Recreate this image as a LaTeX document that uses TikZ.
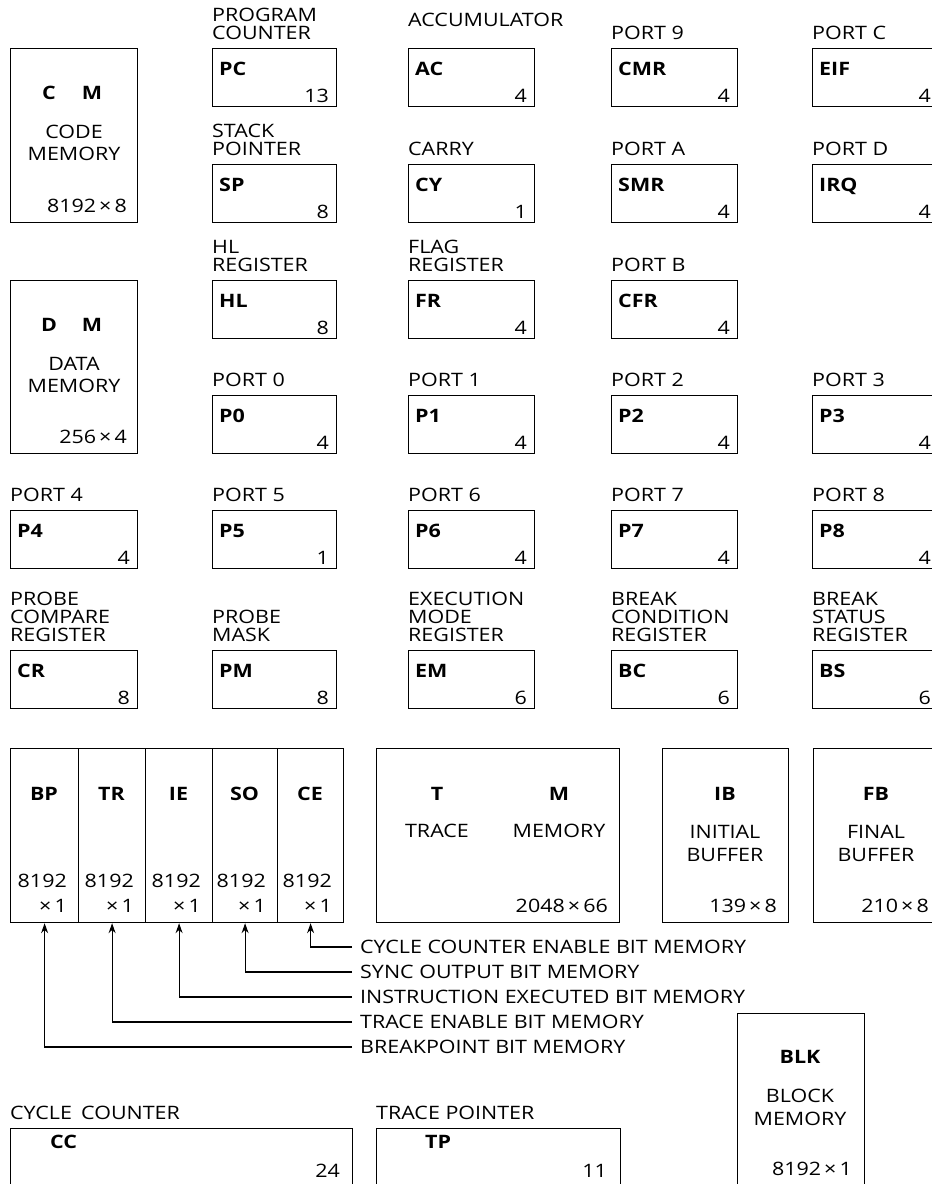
\documentclass[tikz,border=0pt]{standalone}
\usepackage{fontspec}
\setmainfont{Open Sans}[FakeStretch=1.16]
\usetikzlibrary{arrows.meta}
\newcommand\myfs{\fontsize{18.5pt}{22pt}\selectfont}
\newcommand\mylfs{\fontsize{18.5pt}{18pt}\selectfont}
\tikzset{
  box/.style={draw, line width=1.2pt, inner sep=0pt, anchor=north west},
  nm/.style={font=\myfs\bfseries, inner sep=0pt},
  txt/.style={font=\myfs, inner sep=0pt},
  lbl/.style={font=\mylfs, inner sep=0pt, align=left, anchor=south west},
  arr/.style={line width=1.1pt, -{Stealth[length=10pt,width=7pt]}},
}
% id, x, top, width, label, name, bits, label offset
\newcommand{\regb}[8]{%
  \node[box, minimum width=#4pt, minimum height=58pt] (#1) at (#2,#3) {};
  \node[nm, anchor=base west] (#1n) at ([shift={(7pt,-27pt)}]#1.north west) {#6};
  \node[txt, anchor=base east] (#1b) at ([shift={(-8pt,5pt)}]#1.south east) {#7};
  \node[lbl] (#1l) at ([shift={(0pt,#8pt)}]#1.north west) {#5};
}
\begin{document}
\begin{tikzpicture}[x=1pt,y=-1pt]
\useasboundingbox (0,0) rectangle (932,1184);
\clip (0,0) rectangle (932,1184);

% ---- code memory
\node[box, minimum width=127pt, minimum height=174pt] (cm) at (10,48) {};
\node[nm, anchor=base] (cmc) at (49,99) {C};
\node[nm, anchor=base] (cmm) at (92,99) {M};
\node[txt, anchor=base] (cm1) at (74,138) {CODE};
\node[txt, anchor=base] (cm2) at (74,160) {MEMORY};
\node[txt, anchor=base east] (cm3) at (127,212) {8192\,×\,8};
% ---- data memory
\node[box, minimum width=127pt, minimum height=173pt] (dm) at (10,280) {};
\node[nm, anchor=base] (dmd) at (49,331) {D};
\node[nm, anchor=base] (dmm) at (92,331) {M};
\node[txt, anchor=base] (dm1) at (74,370) {DATA};
\node[txt, anchor=base] (dm2) at (74,392) {MEMORY};
\node[txt, anchor=base east] (dm3) at (127,443) {256\,×\,4};

% ---- registers
\regb{pc}{212}{48}{124}{PROGRAM\\COUNTER}{PC}{13}{8}
\regb{ac}{408}{48}{126}{ACCUMULATOR}{AC}{4}{21}
\regb{cmr}{611}{48}{126}{PORT 9}{CMR}{4}{8}
\regb{eif}{812}{48}{126}{PORT C}{EIF}{4}{8}

\regb{sp}{212}{164}{124}{STACK\\POINTER}{SP}{8}{8}
\regb{cy}{408}{164}{126}{CARRY}{CY}{1}{8}
\regb{smr}{611}{164}{126}{PORT A}{SMR}{4}{8}
\regb{irq}{812}{164}{126}{PORT D}{IRQ}{4}{8}

\regb{hl}{212}{280}{124}{HL\\REGISTER}{HL}{8}{8}
\regb{fr}{408}{280}{126}{FLAG\\REGISTER}{FR}{4}{8}
\regb{cfr}{611}{280}{126}{PORT B}{CFR}{4}{8}

\regb{pz}{212}{395}{124}{PORT 0}{P0}{4}{8}
\regb{pa}{408}{395}{126}{PORT 1}{P1}{4}{8}
\regb{pb}{611}{395}{126}{PORT 2}{P2}{4}{8}
\regb{pc3}{812}{395}{126}{PORT 3}{P3}{4}{8}

\regb{pd}{10}{510}{127}{PORT 4}{P4}{4}{8}
\regb{pe}{212}{510}{124}{PORT 5}{P5}{1}{8}
\regb{pf}{408}{510}{126}{PORT 6}{P6}{4}{8}
\regb{pg}{611}{510}{126}{PORT 7}{P7}{4}{8}
\regb{ph}{812}{510}{126}{PORT 8}{P8}{4}{8}

\regb{cr}{10}{650}{127}{PROBE\\COMPARE\\REGISTER}{CR}{8}{8}
\regb{pm}{212}{650}{124}{PROBE\\MASK}{PM}{8}{8}
\regb{em}{408}{650}{126}{EXECUTION\\MODE\\REGISTER}{EM}{6}{8}
\regb{bc}{611}{650}{126}{BREAK\\CONDITION\\REGISTER}{BC}{6}{8}
\regb{bs}{812}{650}{126}{BREAK\\STATUS\\REGISTER}{BS}{6}{8}

% ---- bit memories
\foreach \id/\nam/\l/\r in {bp/BP/10/78, tr/TR/78/145, ie/IE/145/212, so/SO/212/277, ce/CE/277/343}{
  \pgfmathsetmacro{\w}{\r-\l}
  \pgfmathsetmacro{\c}{(\l+\r)/2}
  \pgfmathsetmacro{\rr}{\r-11}
  \node[box, minimum width=\w pt, minimum height=174pt] (\id) at (\l,748) {};
  \node[nm, anchor=base] (\id n) at (\c,800) {\nam};
  \node[txt, anchor=base east] (\id a) at (\rr,887) {8192};
  \node[txt, anchor=base east] (\id b) at (\rr,912) {×\,1};
}

% ---- trace memory
\node[box, minimum width=243pt, minimum height=174pt] (tm) at (376,748) {};
\node[nm, anchor=base] (tmt) at (437,800) {T};
\node[nm, anchor=base] (tmm) at (559,800) {M};
\node[txt, anchor=base] (tm1) at (437,837) {TRACE};
\node[txt, anchor=base] (tm2) at (559,837) {MEMORY};
\node[txt, anchor=base east] (tm3) at (608,912) {2048\,×\,66};
% ---- initial buffer
\node[box, minimum width=126pt, minimum height=174pt] (ib) at (662,748) {};
\node[nm, anchor=base] (ibn) at (725,800) {IB};
\node[txt, anchor=base] (ib1) at (725,838) {INITIAL};
\node[txt, anchor=base] (ib2) at (725,861) {BUFFER};
\node[txt, anchor=base east] (ib3) at (777,912) {139\,×\,8};
% ---- final buffer
\node[box, minimum width=127pt, minimum height=174pt] (fb) at (813,748) {};
\node[nm, anchor=base] (fbn) at (876,800) {FB};
\node[txt, anchor=base] (fb1) at (876,838) {FINAL};
\node[txt, anchor=base] (fb2) at (876,861) {BUFFER};
\node[txt, anchor=base east] (fb3) at (929,912) {210\,×\,8};

% ---- arrow labels
\node[txt, anchor=west] (lce) at (360,947) {CYCLE COUNTER ENABLE BIT MEMORY};
\node[txt, anchor=west] (lso) at (360,972) {SYNC OUTPUT BIT MEMORY};
\node[txt, anchor=west] (lie) at (360,997) {INSTRUCTION EXECUTED BIT MEMORY};
\node[txt, anchor=west] (ltr) at (360,1022) {TRACE ENABLE BIT MEMORY};
\node[txt, anchor=west] (lbp) at (360,1047) {BREAKPOINT BIT MEMORY};
\draw[arr] ([xshift=-8pt]lce.west) -| (ce.south);
\draw[arr] ([xshift=-8pt]lso.west) -| (so.south);
\draw[arr] ([xshift=-8pt]lie.west) -| (ie.south);
\draw[arr] ([xshift=-8pt]ltr.west) -| (tr.south);
\draw[arr] ([xshift=-8pt]lbp.west) -| (bp.south);

% ---- block memory
\node[box, minimum width=127pt, minimum height=174pt] (blk) at (737,1013) {};
\node[nm, anchor=base] (blkn) at (800,1063) {BLK};
\node[txt, anchor=base] (blk1) at (800,1102) {BLOCK};
\node[txt, anchor=base] (blk2) at (800,1125) {MEMORY};
\node[txt, anchor=base east] (blk3) at (852,1175) {8192\,×\,1};

% ---- cycle counter / trace pointer
\node[box, minimum width=342pt, minimum height=60pt] (cc) at (10,1128) {};
\node[lbl] (ccl) at ([yshift=8pt]cc.north west) {CYCLE\enspace COUNTER};
\node[nm, anchor=base west] (ccn) at (50,1148) {CC};
\node[txt, anchor=base east] (ccb) at (340,1177) {24};
\node[box, minimum width=244pt, minimum height=60pt] (tp) at (376,1128) {};
\node[lbl] (tpl) at ([yshift=8pt]tp.north west) {TRACE POINTER};
\node[nm, anchor=base west] (tpn) at (425,1148) {TP};
\node[txt, anchor=base east] (tpb) at (607,1177) {11};
\end{tikzpicture}
\end{document}
